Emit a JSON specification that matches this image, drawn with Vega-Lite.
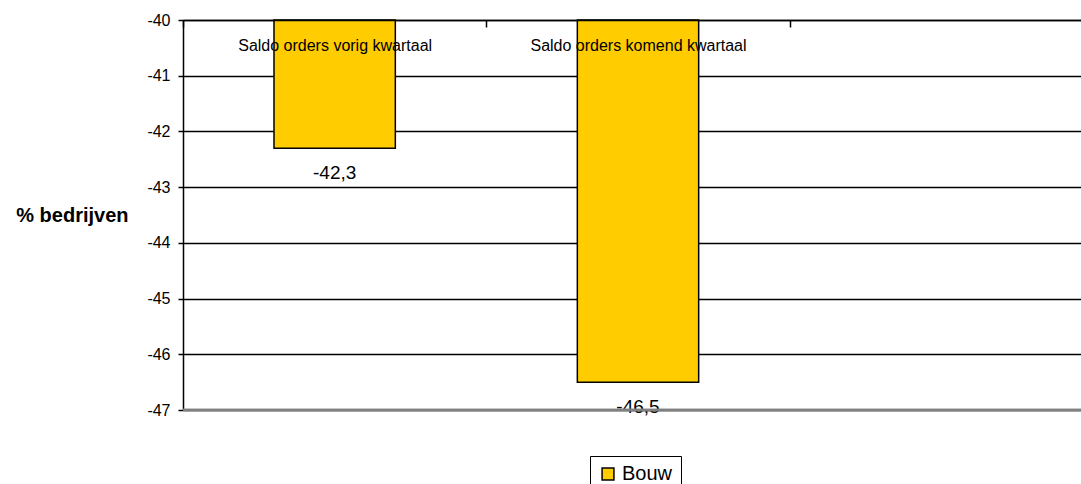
{
  "$schema": "https://vega.github.io/schema/vega-lite/v6.json",
  "width": 910,
  "height": 390,
  "autosize": {"type": "none"},
  "padding": {"left": 183, "top": 20, "right": 0, "bottom": 74},
  "background": "white",
  "data": {"values": [
    {"cat": "Saldo orders vorig kwartaal", "value": -42.3, "series": "Bouw"},
    {"cat": "Saldo orders komend kwartaal", "value": -46.5, "series": "Bouw"}
  ]},
  "config": {
    "font": "Liberation Sans",
    "view": {"stroke": null},
    "locale": {"number": {"decimal": ",", "thousands": ".", "grouping": [3], "currency": ["€", ""], "minus": "-"}}
  },
  "encoding": {
    "x": {
      "field": "cat", "type": "nominal", "sort": null,
      "scale": {"domain": ["Saldo orders vorig kwartaal", "Saldo orders komend kwartaal", " "], "paddingInner": 0, "paddingOuter": 0},
      "axis": {
        "orient": "top", "title": null, "zindex": 1,
        "domainColor": "black", "domainWidth": 1.5,
        "tickBand": "extent", "tickColor": "black", "tickWidth": 1.5, "tickSize": -7,
        "labelAngle": 0, "labelFontSize": 16, "labelColor": "black",
        "labelBaseline": "middle", "labelPadding": -18, "labelLimit": 400
      }
    },
    "y": {
      "field": "value", "type": "quantitative",
      "scale": {"domain": [-47, -40], "zero": false, "nice": false},
      "axis": {
        "values": [-47, -46, -45, -44, -43, -42, -41, -40],
        "format": "d",
        "title": "% bedrijven", "titleAngle": 0, "titleAlign": "right", "titleBaseline": "middle",
        "titleX": -55, "titleY": 195, "titleFontSize": 20, "titleFontWeight": "bold", "titleColor": "black",
        "domainColor": "black", "domainWidth": 1.5,
        "tickColor": "black", "tickWidth": 1.5, "tickSize": 5,
        "gridColor": "black", "gridWidth": 1.6, "gridOpacity": 1,
        "labelFontSize": 16, "labelColor": "black", "labelPadding": 8
      }
    }
  },
  "layer": [
    {
      "mark": {"type": "bar", "stroke": "black", "strokeWidth": 1.5, "width": {"band": 0.4}},
      "encoding": {
        "y2": {"datum": -40},
        "color": {
          "field": "series", "type": "nominal",
          "scale": {"range": ["#FFCC00"]},
          "legend": {
            "orient": "none", "legendX": 407, "legendY": 436, "title": null,
            "strokeColor": "black", "fillColor": "white", "padding": 8,
            "symbolType": "square", "symbolSize": 140, "symbolStrokeColor": "black", "symbolStrokeWidth": 1.5,
            "labelFontSize": 20, "labelColor": "black", "labelOffset": 4
          }
        }
      }
    },
    {
      "mark": {"type": "text", "dy": 25, "fontSize": 19, "color": "black", "baseline": "middle"},
      "encoding": {
        "text": {"field": "value", "type": "quantitative", "format": ".1f"}
      }
    },
    {
      "mark": {"type": "rule", "color": "#808080", "strokeWidth": 2.5},
      "encoding": {"y": {"datum": -47}, "x": {"value": 0}, "x2": {"value": 910}}
    }
  ]
}
